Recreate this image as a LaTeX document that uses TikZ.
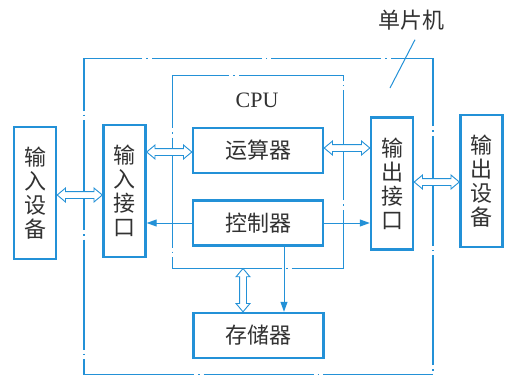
\documentclass[tikz,border=0pt]{standalone}
\usepackage{fontspec}
\setmainfont{Liberation Serif}
\newfontfamily\cjk{Noto Sans CJK SC}
\usetikzlibrary{arrows.meta,shapes.arrows,calc}
\definecolor{mcublue}{RGB}{35,145,215}
\definecolor{inkgray}{RGB}{50,50,50}
\tikzset{
  unit/.style={draw=mcublue, line width=2.4pt, minimum width=130pt, minimum height=45pt,
    inner sep=0pt, text=inkgray, font=\cjk\fontsize{22}{24}\selectfont},
  port/.style={unit, minimum width=42pt, minimum height=132pt, align=center},
  frame/.style={draw=mcublue, inner sep=0pt, dash pattern=on 110pt off 4pt on 1.5pt off 4pt},
  dblarr/.style={double arrow, draw=mcublue, fill=white, line width=0.9pt,
    inner xsep=0pt, inner ysep=3pt, text height=0pt, text depth=0pt,
    double arrow head extend=3.5pt, double arrow tip angle=80},
  ctl/.style={mcublue, line width=1pt, -{Triangle[length=10pt,width=7pt]}}
}
\begin{document}
\begin{tikzpicture}[x=1pt,y=-1pt]
    \useasboundingbox (0,0) rectangle (506,378);
    % frames
    \node[frame, line width=1.6pt, minimum width=349pt, minimum height=316pt] (mcu) at (258.5,216.5) {};
    \node[frame, line width=1pt, minimum width=171pt, minimum height=193pt] (cpu) at (257.5,171.5) {};
    \node[text=inkgray, font=\fontsize{22}{24}\selectfont] (cpulbl) at (257,100) {CPU};
    \node[text=inkgray, font=\cjk\fontsize{22}{24}\selectfont] (mcutag) at (411,20) {单片机};
    \coordinate (leadend) at (390,88);
    \draw[mcublue, line width=1pt] ([xshift=4pt,yshift=-6pt]mcutag.south) -- (leadend);
    % units
    \node[port] (indev) at (35,193) {输\\入\\设\\备};
    \node[port] (inif) at (124.5,191) {输\\入\\接\\口};
    \node[port] (outif) at (392,183.5) {输\\出\\接\\口};
    \node[port] (outdev) at (481.5,181) {输\\出\\设\\备};
    \node[unit] (alu) at (258,150.5) {运算器};
    \node[unit] (ctrl) at (258,223) {控制器};
    \node[unit] (mem) at (258.5,335.5) {存储器};
    % buses
    \foreach \s/\t/\h in {indev/inif/195, inif/alu/152, alu/outif/148, outif/outdev/182}
      \path let \p1=(\s.east |- 0,\h), \p2=(\t.west |- 0,\h) in
        node[dblarr, minimum height=\x2-\x1] at ($(\p1)!.5!(\p2)$) {};
    \path let \p1=(cpu.south -| 243,0), \p2=(mem.north -| 243,0) in
      node[dblarr, rotate=90, minimum height=\y1-\y2] at ($(\p1)!.5!(\p2)$) {};
    % control lines
    \draw[ctl] (ctrl.west) -- (ctrl.west -| inif.east);
    \draw[ctl] (ctrl.east) -- (ctrl.east -| outif.west);
    \draw[ctl] (ctrl.south -| 284,0) -- (mem.north -| 284,0);
\end{tikzpicture}
\end{document}
